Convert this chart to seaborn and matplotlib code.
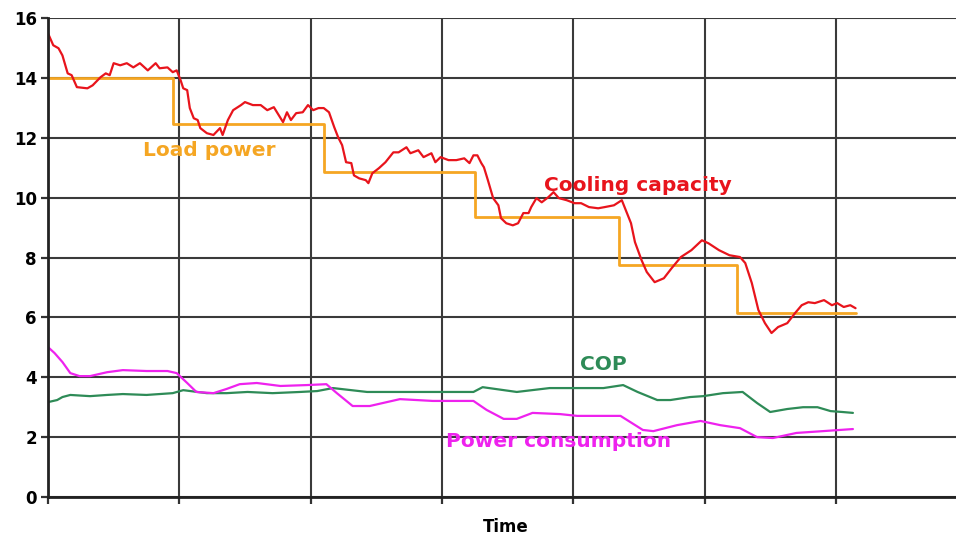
import matplotlib
matplotlib.use("Agg")
import matplotlib.pyplot as plt
import seaborn as sns

# --- 読み取った値（時間軸はグリッド1目盛=1単位） ---
cool_t = [0.00, 0.04, 0.08, 0.11, 0.15, 0.18, 0.22, 0.30, 0.34, 0.40, 0.44, 0.47, 0.50, 0.55,
          0.60, 0.65, 0.70, 0.76, 0.82, 0.85, 0.91, 0.95, 0.98, 1.01, 1.03, 1.06, 1.08, 1.11,
          1.14, 1.16, 1.21, 1.26, 1.31, 1.33, 1.37, 1.41, 1.47, 1.50, 1.56, 1.62, 1.67, 1.72,
          1.79, 1.82, 1.85, 1.89, 1.94, 1.98, 2.02, 2.06, 2.10, 2.14, 2.18, 2.21, 2.24, 2.27,
          2.31, 2.33, 2.37, 2.42, 2.44, 2.47, 2.52, 2.57, 2.63, 2.67, 2.73, 2.76, 2.82, 2.86,
          2.92, 2.95, 2.99, 3.05, 3.11, 3.17, 3.21, 3.24, 3.27, 3.30, 3.32, 3.35, 3.39, 3.43,
          3.45, 3.49, 3.54, 3.58, 3.62, 3.66, 3.68, 3.72, 3.76, 3.81, 3.85, 3.89, 3.95, 4.01,
          4.06, 4.12, 4.19, 4.24, 4.31, 4.37, 4.40, 4.44, 4.47, 4.52, 4.56, 4.62, 4.69, 4.75,
          4.82, 4.90, 4.98, 5.03, 5.11, 5.19, 5.27, 5.31, 5.36, 5.41, 5.46, 5.51, 5.56, 5.63,
          5.69, 5.74, 5.79, 5.84, 5.91, 5.97, 6.01, 6.06, 6.11, 6.15]
cool_v = [15.50, 15.10, 15.00, 14.76, 14.16, 14.10, 13.70, 13.66, 13.76, 14.03, 14.16, 14.10, 14.50, 14.43,
          14.50, 14.36, 14.50, 14.26, 14.50, 14.33, 14.36, 14.20, 14.26, 13.93, 13.66, 13.60, 13.00, 12.66,
          12.60, 12.33, 12.16, 12.10, 12.33, 12.10, 12.60, 12.93, 13.10, 13.20, 13.10, 13.10, 12.93, 13.03,
          12.53, 12.86, 12.60, 12.83, 12.86, 13.10, 12.93, 13.00, 13.00, 12.86, 12.36, 12.02, 11.76, 11.19,
          11.16, 10.75, 10.65, 10.59, 10.49, 10.82, 10.99, 11.19, 11.52, 11.52, 11.69, 11.49, 11.59, 11.36,
          11.49, 11.19, 11.36, 11.26, 11.26, 11.32, 11.16, 11.42, 11.42, 11.16, 11.02, 10.59, 9.99, 9.75,
          9.32, 9.15, 9.08, 9.15, 9.49, 9.49, 9.69, 9.99, 9.85, 10.02, 10.19, 9.99, 9.92, 9.82,
          9.82, 9.69, 9.65, 9.69, 9.75, 9.92, 9.59, 9.15, 8.52, 7.92, 7.52, 7.18, 7.31, 7.65,
          8.02, 8.25, 8.58, 8.48, 8.25, 8.08, 8.02, 7.82, 7.15, 6.25, 5.81, 5.48, 5.68, 5.81,
          6.15, 6.41, 6.51, 6.48, 6.58, 6.41, 6.48, 6.35, 6.41, 6.31]

load_t = [0.00, 0.95, 2.10, 3.25, 4.35, 5.25, 6.15]
load_v = [14.00, 12.46, 10.85, 9.35, 7.75, 6.15, 6.15]

cop_t = [0.00, 0.07, 0.11, 0.17, 0.32, 0.45, 0.57, 0.75, 0.95, 1.03, 1.21, 1.36, 1.52, 1.71,
         1.92, 2.05, 2.17, 2.43, 2.68, 2.99, 3.24, 3.31, 3.57, 3.82, 4.03, 4.23, 4.38, 4.49,
         4.64, 4.74, 4.89, 4.99, 5.14, 5.29, 5.40, 5.50, 5.63, 5.75, 5.86, 5.96, 6.05, 6.13]
cop_v = [3.17, 3.24, 3.34, 3.41, 3.37, 3.41, 3.44, 3.41, 3.47, 3.57, 3.47, 3.47, 3.51, 3.47,
         3.51, 3.54, 3.64, 3.51, 3.51, 3.51, 3.51, 3.67, 3.51, 3.64, 3.64, 3.64, 3.74, 3.51,
         3.24, 3.24, 3.34, 3.37, 3.47, 3.51, 3.14, 2.84, 2.94, 3.00, 3.00, 2.87, 2.84, 2.81]

power_t = [0.00, 0.05, 0.11, 0.17, 0.24, 0.32, 0.45, 0.57, 0.75, 0.91, 0.98, 1.06, 1.13, 1.26,
           1.36, 1.46, 1.59, 1.77, 1.97, 2.12, 2.20, 2.32, 2.45, 2.55, 2.68, 2.93, 3.24, 3.34,
           3.47, 3.57, 3.69, 3.90, 4.03, 4.36, 4.53, 4.61, 4.79, 4.97, 5.12, 5.27, 5.40, 5.52,
           5.70, 5.90, 6.13]
power_v = [5.01, 4.81, 4.51, 4.14, 4.04, 4.04, 4.17, 4.24, 4.21, 4.21, 4.14, 3.81, 3.51, 3.47,
           3.61, 3.77, 3.81, 3.71, 3.74, 3.77, 3.47, 3.04, 3.04, 3.14, 3.27, 3.21, 3.21, 2.91,
           2.61, 2.61, 2.81, 2.77, 2.71, 2.71, 2.24, 2.20, 2.40, 2.54, 2.40, 2.30, 2.00, 1.97,
           2.14, 2.20, 2.27]

y_ticks = [0, 2, 4, 6, 8, 10, 12, 14, 16]
x_grid = [0, 1, 2, 3, 4, 5, 6]

RED = "#e8141c"
ORANGE = "#f5a623"
GREEN = "#2e8b57"
MAGENTA = "#ee22ee"

sns.set_theme(style="white")
plt.rcParams["font.family"] = ["DejaVu Sans"]

fig = plt.figure(figsize=(9.56, 5.39), dpi=100)
ax = fig.add_axes([0.0502, 0.078, 0.9498, 0.888])

sns.lineplot(x=load_t, y=load_v, ax=ax, color=ORANGE, linewidth=2.0,
             drawstyle="steps-post", estimator=None, sort=False)
for t, v, c in [(cool_t, cool_v, RED), (cop_t, cop_v, GREEN), (power_t, power_v, MAGENTA)]:
    sns.lineplot(x=t, y=v, ax=ax, color=c, linewidth=1.6, estimator=None, sort=False)

ax.set_xlim(0, 6.915)
ax.set_ylim(0, 16)
ax.set_xticks(x_grid)
ax.set_xticklabels([])
ax.set_yticks(y_ticks)
ax.set_yticklabels([str(v) for v in y_ticks], fontweight="bold", fontsize=12, color="black")
ax.grid(True, color="#3a3a3a", linewidth=1.5)
ax.set_axisbelow(True)

for s in ["top", "right"]:
    ax.spines[s].set_visible(False)
for s in ["left", "bottom"]:
    ax.spines[s].set_color("#222222")
    ax.spines[s].set_linewidth(2.0)
ax.tick_params(axis="both", length=5, width=1.6, color="#333333", pad=3, direction="out",
               bottom=True, left=True)

ax.set_xlabel("Time", fontweight="bold", fontsize=12, color="black")
ax.xaxis.set_label_coords((506 - 48) / (0.9498 * 956), -0.045)

lab = dict(fontweight="bold", fontsize=14.5, va="center", ha="left")
ax.text(0.725, 11.59, "Load power", color=ORANGE, **lab)
ax.text(3.78, 10.42, "Cooling capacity", color=RED, **lab)
ax.text(4.05, 4.44, "COP", color=GREEN, **lab)
ax.text(3.03, 1.84, "Power consumption", color=MAGENTA, **lab)

fig.savefig("out.png", dpi=100)
